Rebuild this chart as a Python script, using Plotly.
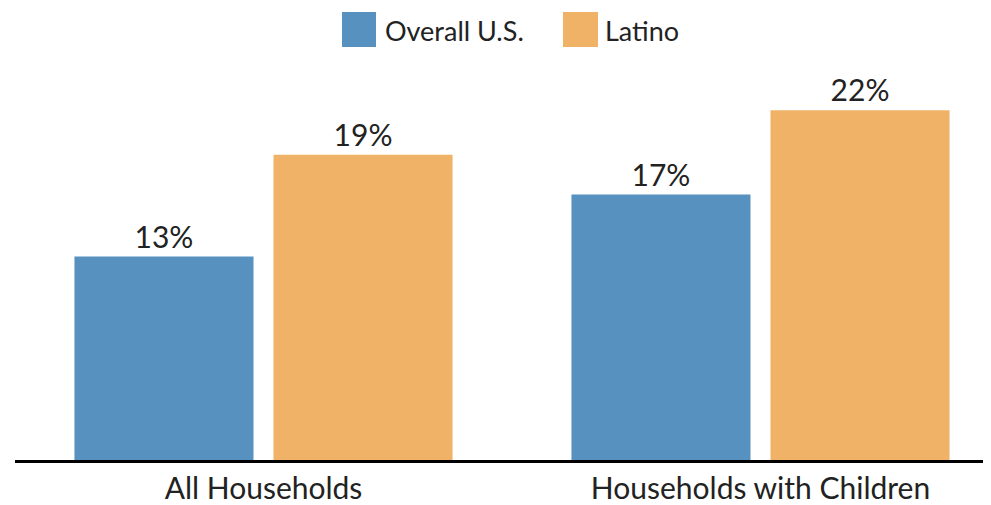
import plotly.graph_objects as go

categories = ["All Households", "Households with Children"]
overall_us = [12.8, 16.7]
latino = [19.2, 22.0]
series_names = ["Overall U.S.", "Latino"]
colors = ["#5691C0", "#F0B266"]

FONT = "Lato, Roboto, sans-serif"
TEXT_COLOR = "#222222"
FS = 30
LEG_FS = 27

# page body has an 8px default margin; figure pixel = reference pixel - 8
OFF = 8
W, H = 976, 400
L, T = 15 - OFF, 60 - OFF
B = 505 - T - H
R = 991 - L - W

fig = go.Figure()
for name, vals, col in zip(series_names, [overall_us, latino], colors):
    fig.add_trace(go.Bar(
        x=categories, y=vals, name=name,
        marker=dict(color=col, line=dict(width=0)),
        texttemplate="%{y:.0f}%", textposition="outside",
        textfont=dict(size=FS, color=TEXT_COLOR, family=FONT),
        cliponaxis=False, showlegend=False,
    ))

# custom legend (large swatches); positions given in reference pixels
def px(x):
    return (x - 15) / W
def py(y):
    return (460 - y) / H

legend_items = [(342, 376, 383), (563, 598, 603)]
for (x0, x1, tx), name, col in zip(legend_items, series_names, colors):
    fig.add_shape(type="rect", xref="paper", yref="paper",
                  x0=px(x0), x1=px(x1), y0=py(47), y1=py(12),
                  fillcolor=col, line=dict(width=0))
    fig.add_annotation(xref="paper", yref="paper", x=px(tx), y=py(30),
                       text=name, showarrow=False, xanchor="left", yanchor="middle",
                       font=dict(size=LEG_FS, color=TEXT_COLOR, family=FONT))

fig.update_layout(
    width=991, height=505,
    margin=dict(l=L, r=R, t=T, b=B),
    paper_bgcolor="white", plot_bgcolor="white",
    barmode="group", bargap=0.199, bargroupgap=0.1005,
    font=dict(family=FONT, size=FS, color=TEXT_COLOR),
    xaxis=dict(range=[-0.5, 1.4638], showline=True, linecolor="black", linewidth=3,
               ticks="", showgrid=False, automargin=False,
               tickfont=dict(size=FS, color=TEXT_COLOR, family=FONT)),
    yaxis=dict(range=[0, 25.16], visible=False, showgrid=False, zeroline=False,
               automargin=False),
)

fig.write_html("out.html")
